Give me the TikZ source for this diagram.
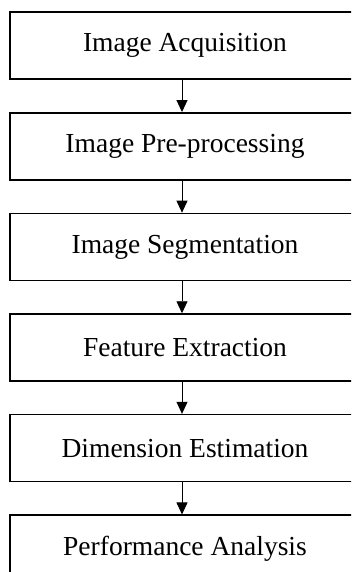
\documentclass[tikz,border=0pt]{standalone}
\usepackage{fontspec}
\setmainfont{Liberation Serif}
\usetikzlibrary{positioning,arrows.meta}

\begin{document}
\begin{tikzpicture}[x=1pt,y=1pt,
  stagebox/.style={draw,line width=1.6pt,minimum width=350pt,minimum height=67pt,
    inner sep=0pt,font=\fontsize{27.5}{33}\selectfont},
  flow/.style={line width=0.9pt,-{Triangle[length=12pt,width=11pt]}},
  node distance=32pt]
%
\clip (0,0) rectangle (351,-572);
%
\node[stagebox] (acq) at (185,-45.75) {Image Acquisition};
\node[stagebox,below=of acq] (pre) {Image Pre-processing};
\node[stagebox,below=of pre] (seg) {Image Segmentation};
\node[stagebox,below=of seg] (feat) {Feature Extraction};
\node[stagebox,below=of feat] (dim) {Dimension Estimation};
\node[stagebox,below=of dim] (perf) {Performance Analysis};
%
\draw[flow] ([xshift=-3pt]acq.south) -- ([xshift=-3pt]pre.north);
\draw[flow] ([xshift=-3pt]pre.south) -- ([xshift=-3pt]seg.north);
\draw[flow] ([xshift=-3pt]seg.south) -- ([xshift=-3pt]feat.north);
\draw[flow] ([xshift=-3pt]feat.south) -- ([xshift=-3pt]dim.north);
\draw[flow] ([xshift=-3pt]dim.south) -- ([xshift=-3pt]perf.north);
\end{tikzpicture}
\end{document}
